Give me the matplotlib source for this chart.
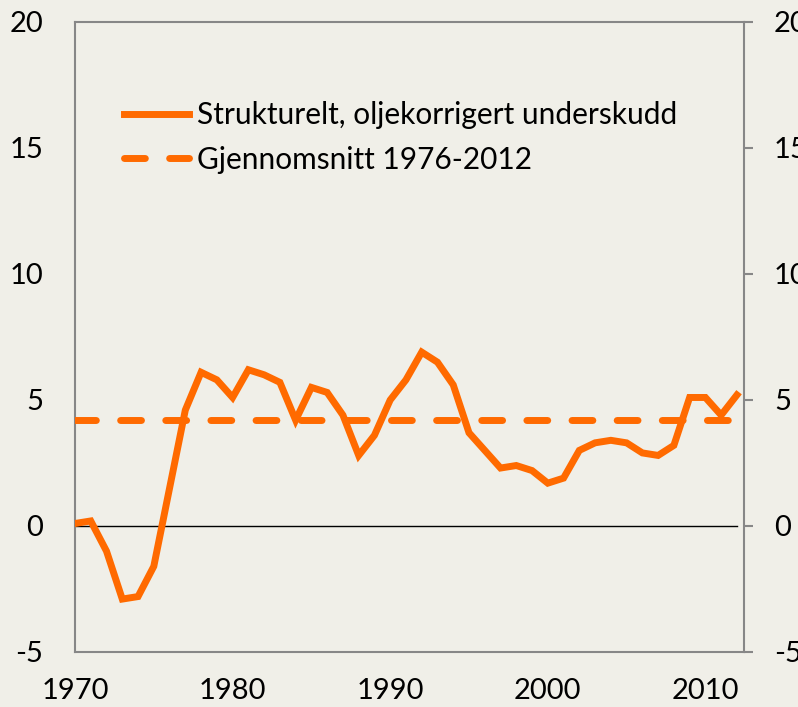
import matplotlib
matplotlib.use("Agg")
import matplotlib.pyplot as plt

years = list(range(1970, 2013))
underskudd = [0.1, 0.2, -1.0, -2.9, -2.8, -1.6, 1.5, 4.6, 6.1, 5.8,
              5.1, 6.2, 6.0, 5.7, 4.2, 5.5, 5.3, 4.4, 2.8, 3.6,
              5.0, 5.8, 6.9, 6.5, 5.6, 3.7, 3.0, 2.3, 2.4, 2.2,
              1.7, 1.9, 3.0, 3.3, 3.4, 3.3, 2.9, 2.8, 3.2, 5.1,
              5.1, 4.4, 5.2]
gjennomsnitt = 4.2
label_solid = "Strukturelt, oljekorrigert underskudd"
label_dash = "Gjennomsnitt 1976-2012"
yticks = [-5, 0, 5, 10, 15, 20]
xticks = [1970, 1980, 1990, 2000, 2010]

bg = "#F0EFE8"
orange = "#FF6A00"
gray = "#878787"

plt.rcParams['font.family'] = ['Lato', 'DejaVu Sans']
plt.rcParams['axes.unicode_minus'] = False

fig = plt.figure(figsize=(7.98, 7.07), dpi=100, facecolor=bg)
ax = fig.add_axes([75/798, 1-652/707, (744-75)/798, (652-22)/707])
ax.set_facecolor(bg)

ax.axhline(0, color="black", lw=1.0, xmin=0, xmax=(2012-1970)/(2012.45-1970), zorder=2)
ax.plot(years, underskudd, color=orange, lw=5, solid_joinstyle='miter', label=label_solid, zorder=3)
ax.plot([years[0], years[-1]], [gjennomsnitt, gjennomsnitt], color=orange, lw=5,
        linestyle=(0, (3.0, 3.5)), dash_capstyle='round', label=label_dash, zorder=3)

ax.set_xlim(1970, 2012.45)
ax.set_ylim(-5, 20)
ax.set_yticks(yticks)
ax.set_xticks(xticks)
ax.tick_params(axis='x', length=0, pad=19, labelsize=21)
ax.tick_params(axis='y', length=0, pad=23, labelsize=21)
for s in ax.spines.values():
    s.set_color(gray)
    s.set_linewidth(1.5)

ax2 = ax.twinx()
ax2.set_ylim(-5, 20)
ax2.set_yticks(yticks)
ax2.tick_params(axis='y', length=6.5, width=1.5, color=gray, direction='out', pad=15, labelsize=21)
for s in ax2.spines.values():
    s.set_visible(False)

leg = ax.legend(loc='upper left', bbox_to_anchor=(0.055, 0.893), frameon=False,
                fontsize=21.5, handlelength=2.2, handletextpad=0.25, labelspacing=0.55,
                borderaxespad=0)

fig.savefig("out.png", dpi=100, facecolor=bg)
